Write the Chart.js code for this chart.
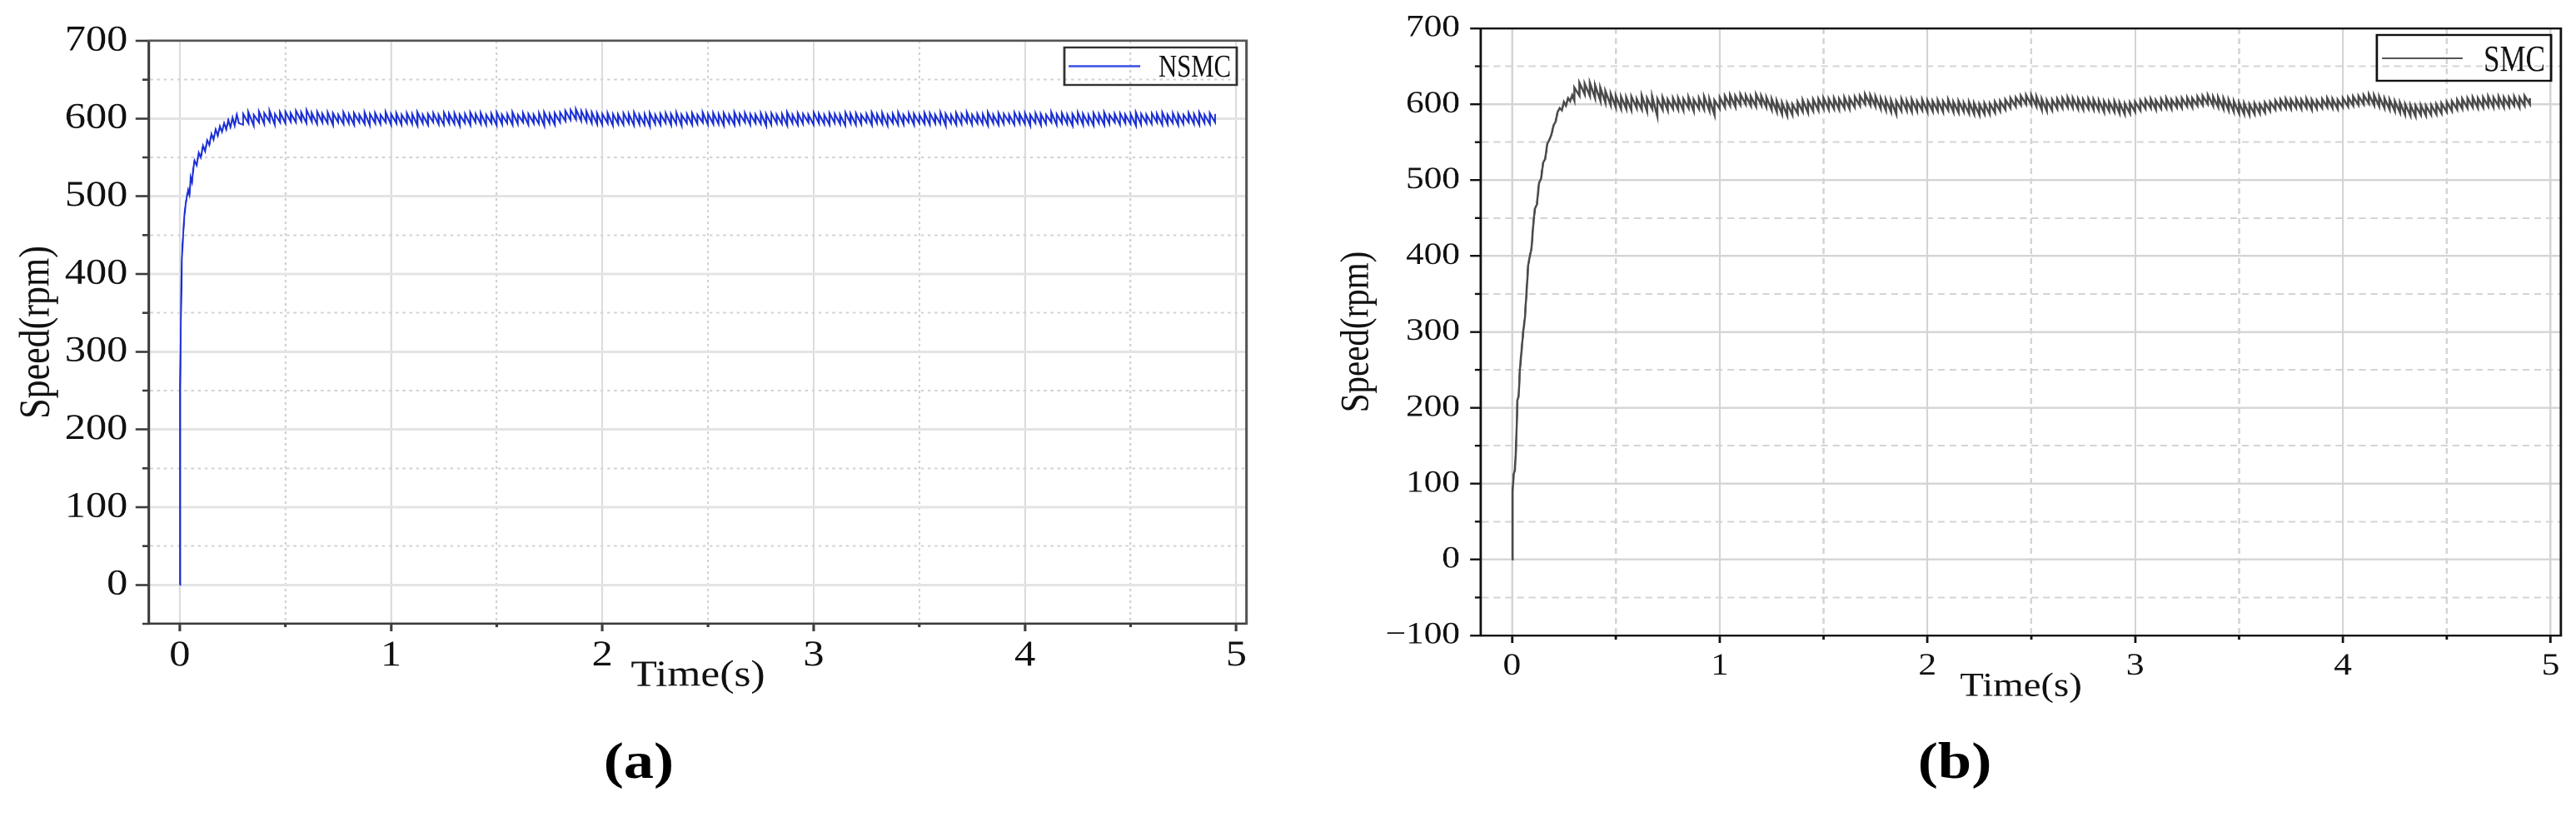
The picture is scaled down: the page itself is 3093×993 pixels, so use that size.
<!DOCTYPE html>
<html><head><meta charset="utf-8">
<script src="https://cdn.jsdelivr.net/npm/chart.js@4.4.1/dist/chart.umd.min.js"></script>
<style>
html,body{margin:0;padding:0;background:#fff;width:3093px;height:993px;overflow:hidden;}
.wrap{position:absolute;top:0;height:993px;transform-origin:0 0;transform:scaleX(1.17);}
#wa{left:0;width:1321px;}
#wb{left:1546px;width:1322px;}
canvas{display:block;}
.tag{position:absolute;top:882px;height:62px;line-height:62px;width:200px;text-align:center;font-weight:bold;font-size:62px;font-family:'Liberation Serif',serif;color:#000;transform:scaleX(1.17);}
</style></head><body>
<div class="wrap" id="wa"><canvas id="ca" width="1321" height="993" style="width:1321px;height:993px"></canvas></div>
<div class="wrap" id="wb"><canvas id="cb" width="1322" height="993" style="width:1322px;height:993px"></canvas></div>
<div class="tag" style="left:667px">(a)</div>
<div class="tag" style="left:2247px">(b)</div>
<script>
// ---- data ----
const tRiseNSMC = [0,0.002,0.006,0.01,0.016,0.022,0.028,0.034,0.04,0.046,0.052,0.058,0.064,0.07,0.08,0.09,0.1,0.11,0.12,0.13,0.14,0.15,0.16,0.17,0.18,0.19,0.2,0.21,0.22,0.23,0.24,0.25,0.26,0.27,0.28];
const vRiseNSMC = [0,255,350,420,450,475,490,500,508,502,524,518,535,546,540,556,550,565,558,572,566,580,573,586,578,590,583,594,586,598,589,601,591,605,594];
const tRiseSMC = [0,0.003,0.008,0.014,0.02,0.026,0.032,0.038,0.046,0.054,0.062,0.07,0.078,0.086,0.094,0.102,0.11,0.12,0.13,0.14,0.15,0.16,0.17,0.18,0.19,0.2,0.21,0.22,0.23,0.24,0.25,0.26,0.27,0.28,0.29];
const vRiseSMC = [0,90,112,118,150,210,215,250,275,300,318,352,388,400,410,440,462,468,496,502,523,528,548,553,560,572,577,590,595,592,603,598,608,604,612];
// steady-state chatter: at each time the lower and upper end of the chatter bar
const tSteady = [
0.3,0.325,0.35,0.375,0.4,0.425,0.45,0.475,0.5,0.525,
0.55,0.575,0.6,0.625,0.65,0.675,0.7,0.725,0.75,0.775,
0.8,0.825,0.85,0.875,0.9,0.925,0.95,0.975,1,1.025,
1.05,1.075,1.1,1.125,1.15,1.175,1.2,1.225,1.25,1.275,
1.3,1.325,1.35,1.375,1.4,1.425,1.45,1.475,1.5,1.525,
1.55,1.575,1.6,1.625,1.65,1.675,1.7,1.725,1.75,1.775,
1.8,1.825,1.85,1.875,1.9,1.925,1.95,1.975,2,2.025,
2.05,2.075,2.1,2.125,2.15,2.175,2.2,2.225,2.25,2.275,
2.3,2.325,2.35,2.375,2.4,2.425,2.45,2.475,2.5,2.525,
2.55,2.575,2.6,2.625,2.65,2.675,2.7,2.725,2.75,2.775,
2.8,2.825,2.85,2.875,2.9,2.925,2.95,2.975,3,3.025,
3.05,3.075,3.1,3.125,3.15,3.175,3.2,3.225,3.25,3.275,
3.3,3.325,3.35,3.375,3.4,3.425,3.45,3.475,3.5,3.525,
3.55,3.575,3.6,3.625,3.65,3.675,3.7,3.725,3.75,3.775,
3.8,3.825,3.85,3.875,3.9,3.925,3.95,3.975,4,4.025,
4.05,4.075,4.1,4.125,4.15,4.175,4.2,4.225,4.25,4.275,
4.3,4.325,4.35,4.375,4.4,4.425,4.45,4.475,4.5,4.525,
4.55,4.575,4.6,4.625,4.65,4.675,4.7,4.725,4.75,4.775,
4.8,4.825,4.85,4.875,4.9];
const loNSMC = [
592,594,591,595,593,596,592,595,594,596,
595,597,594,596,593,595,594,592,595,593,
594,592,595,593,591,594,593,595,592,594,
592,594,593,591,594,592,595,593,592,594,
593,591,594,592,595,593,592,594,591,593,
594,592,593,595,592,594,593,591,594,592,
595,597,598,599,597,596,594,593,592,594,
591,593,592,594,591,593,592,590,593,592,
594,592,593,591,594,592,593,595,592,593,
593,591,594,592,593,595,592,594,593,591,
592,594,593,591,594,592,593,595,592,594,
593,592,594,593,591,594,592,593,595,592,
594,593,591,594,592,593,595,592,594,593,
592,594,593,591,594,592,593,595,592,594,
593,591,594,592,593,595,592,594,593,591,
594,592,593,595,592,594,593,591,594,592,
593,591,594,592,593,595,592,594,593,591,
592,594,593,595,592,593,594,592,593,595,
593,592,594,593,595];
const hiNSMC = [
606,608,605,609,607,610,606,608,609,607,
610,608,611,607,609,606,608,607,605,608,
606,607,605,608,606,607,605,608,606,607,
605,607,606,608,605,606,607,605,608,606,
607,605,606,608,606,607,605,606,608,605,
606,608,605,607,606,605,607,608,606,607,
608,610,611,612,610,609,608,607,606,607,
606,605,607,606,608,605,606,607,605,606,
607,606,608,605,606,607,605,608,606,607,
606,607,605,608,606,607,606,605,607,606,
607,605,606,608,605,607,606,605,608,606,
605,607,606,605,608,606,607,605,606,608,
606,607,605,606,608,605,607,606,605,607,
607,605,608,606,605,607,606,608,605,606,
606,608,605,607,606,605,608,606,607,605,
607,606,605,608,606,607,605,606,608,606,
605,607,606,608,605,606,607,605,606,608,
606,605,607,606,608,605,607,606,605,607,
606,608,605,607,606];
const loSMC = [
605,611,613,611,608,605,602,599,596,594,
594,592,595,593,591,594,584,593,592,594,
593,592,595,591,594,593,592,586,594,596,
598,597,599,600,598,597,599,596,593,590,
587,585,586,588,590,589,591,592,594,593,
594,593,595,594,596,598,600,599,597,594,
592,590,587,591,592,590,591,592,590,591,
591,590,592,590,589,590,588,587,586,587,
587,589,591,593,595,597,599,600,599,597,
593,591,592,594,595,596,595,594,593,594,
593,592,590,591,590,588,587,588,590,592,
594,595,593,594,595,594,596,595,597,596,
598,599,600,598,596,594,592,590,588,587,
586,587,588,589,591,593,594,595,594,595,
594,595,593,594,595,596,595,594,596,597,
598,599,600,601,599,597,595,593,591,589,
586,585,584,586,585,586,587,588,590,591,
593,594,595,596,595,596,597,596,597,596,
597,598,596,598,600];
const hiSMC = [
622,628,627,628,625,622,617,614,611,610,
609,610,607,611,608,610,607,609,606,608,
608,607,609,606,608,610,607,605,609,611,
612,611,613,612,610,613,611,609,607,604,
602,601,600,603,605,604,606,607,608,607,
608,607,609,608,610,611,613,612,610,608,
606,605,604,607,605,606,604,606,605,604,
605,604,606,603,604,602,603,601,600,601,
601,603,604,606,608,609,611,612,612,610,
607,605,606,607,608,609,608,607,606,607,
606,605,604,603,604,602,601,602,603,605,
606,607,605,607,608,606,607,608,609,608,
610,611,612,610,609,608,606,604,602,601,
600,601,600,602,603,605,606,607,606,607,
606,607,606,605,607,608,607,606,608,609,
610,611,612,613,612,610,608,606,604,602,
600,599,598,599,598,599,600,601,603,604,
606,607,608,609,608,609,610,609,610,609,
609,610,609,611,608];
const seriesNames = ['NSMC','SMC'];
const xTitle = 'Time(s)';
const yTitle = 'Speed(rpm)';

function riseSteady(tr, vr, ts, lo, hi){
  const out = tr.map((x,i)=>({x:x, y:vr[i]}));
  ts.forEach((x,i)=>{ out.push({x:x, y:lo[i]}); out.push({x:x, y:hi[i]}); });
  return out;
}
const isMajX = v => Math.abs(v - Math.round(v)) < 1e-6;
const isMajY = v => Math.abs(v/100 - Math.round(v/100)) < 1e-6;

const minorTicks = {
  id:'minorTicks',
  afterDraw(chart, args, o){
    const {ctx, chartArea:a} = chart; const xs = chart.scales.x, ys = chart.scales.y;
    ctx.save(); ctx.strokeStyle = o.color; ctx.lineWidth = o.width; ctx.beginPath();
    xs.ticks.forEach(t=>{ if(!isMajX(t.value)){ const p = xs.getPixelForValue(t.value); ctx.moveTo(p, a.bottom); ctx.lineTo(p, a.bottom + o.xLen);} });
    ys.ticks.forEach(t=>{ if(!isMajY(t.value)){ const p = ys.getPixelForValue(t.value); ctx.moveTo(a.left - o.yLen, p); ctx.lineTo(a.left, p);} });
    ctx.stroke(); ctx.restore();
  }
};
const legendBox = {
  id:'legendBox',
  afterDraw(chart, args, o){
    const {ctx, chartArea:a} = chart; const ds = chart.data.datasets[0];
    const bx = a.right - o.rightInset - o.w, by = a.top + o.topInset;
    ctx.save();
    ctx.strokeStyle = o.boxColor; ctx.lineWidth = o.boxWidth; ctx.strokeRect(bx, by, o.w, o.h);
    ctx.strokeStyle = o.lineColor || ds.borderColor; ctx.lineWidth = o.lineW; ctx.beginPath();
    ctx.moveTo(bx + o.l0, a.top + o.ly); ctx.lineTo(bx + o.l1, a.top + o.ly); ctx.stroke();
    ctx.fillStyle = '#111'; ctx.font = o.font + 'px "Liberation Serif"'; ctx.textBaseline = 'alphabetic'; ctx.textAlign = 'left';
    ctx.translate(bx + o.tx, a.top + o.ty); ctx.scale(o.sx, 1);
    ctx.fillText(ds.label, 0, 0);
    ctx.restore();
  }
};

function build(id, P){
  const fam = 'Liberation Serif';
  const neg = v => v < 0 ? '\u2212' + Math.abs(v) : String(v);
  return new Chart(document.getElementById(id), {
    type:'line',
    data:{datasets:[{label:P.label, data:P.data, borderColor:P.color, borderWidth:P.lineW, pointRadius:0, tension:0, fill:false}]},
    options:{
      responsive:false, animation:false, devicePixelRatio:2,
      layout:{padding:{left:P.padL, right:P.padR, top:P.padT, bottom:P.padB}},
      plugins:{legend:{display:false}, tooltip:{enabled:false},
        minorTicks:{color:P.axisColor, width:P.axisW, xLen:P.xMinLen, yLen:P.yMinLen},
        legendBox:P.legend},
      scales:{
        x:{type:'linear', position:'bottom', min:P.xMin, max:P.xMax,
          afterFit:s=>{s.height = 100;},
          ticks:{stepSize:0.5, includeBounds:false, autoSkip:false, maxRotation:0, padding:P.xTickPad, color:'#111',
            font:{family:fam, size:P.tickSize, lineHeight:1.2}, callback:v => isMajX(v) ? String(Math.round(v)) : ''},
          grid:{color:c => (c.tick && isMajX(c.tick.value)) ? P.gridMaj : P.gridMin, lineWidth:P.gridW, tickLength:9, tickWidth:P.axisW,
            tickColor:c => (c.tick && isMajX(c.tick.value)) ? P.axisColor : 'rgba(0,0,0,0)'},
          border:{display:true, color:P.axisColor, width:P.axisW, dash:c => (c.tick && !isMajX(c.tick.value)) ? P.dash : []},
          title:{display:true, text:xTitle, color:'#111', font:{family:fam, size:P.xTitleSize, lineHeight:1}, padding:{top:0, bottom:P.xTitlePad}}
        },
        y:{type:'linear', position:'left', min:P.yMin, max:700,
          afterFit:s=>{s.width = P.yW;},
          ticks:{stepSize:50, autoSkip:false, padding:P.yTickPad, color:'#111',
            font:{family:fam, size:P.tickSize, lineHeight:1.2}, callback:v => isMajY(v) ? neg(Math.round(v)) : ''},
          grid:{color:c => (c.tick && isMajY(c.tick.value)) ? P.gridMajY : P.gridMin, lineWidth:c => (c.tick && isMajY(c.tick.value)) ? P.gridWY : P.gridW, tickLength:P.yTickLen, tickWidth:P.axisW,
            tickColor:c => (c.tick && isMajY(c.tick.value)) ? P.axisColor : 'rgba(0,0,0,0)'},
          border:{display:true, color:P.axisColor, width:P.axisW, dash:c => (c.tick && !isMajY(c.tick.value)) ? P.dash : []},
          title:{display:true, text:yTitle, color:'#111', font:{family:fam, size:P.yTitleSize, lineHeight:1}, padding:{top:0, bottom:0}}
        },
        x2:{type:'linear', position:'top', min:P.xMin, max:P.xMax, afterFit:s=>{s.height = 0;},
          ticks:{display:false}, grid:{display:false}, border:{display:true, color:P.frameColor, width:P.axisW}},
        y2:{type:'linear', position:'right', min:P.yMin, max:700, afterFit:s=>{s.width = 0;},
          ticks:{display:false}, grid:{display:false}, border:{display:true, color:P.frameColor, width:P.axisW}}
      }
    },
    plugins:[minorTicks, legendBox]
  });
}

build('ca', {
  label:seriesNames[0], data:riseSteady(tRiseNSMC, vRiseNSMC, tSteady, loNSMC, hiNSMC), color:'#1b2fd4', lineW:1.8,
  padL:16.5, padR:41.5, padT:49, padB:144, yW:136.5,
  xMin:-0.145, xMax:5.05, yMin:-50,
  tickSize:43, xTickPad:4, yTickPad:8, yTickLen:14, xMinLen:4, yMinLen:7,
  xTitleSize:44, xTitlePad:15, yTitleSize:44,
  axisColor:'#3c3c3c', frameColor:'#555', axisW:2.6,
  gridMaj:'#dcdcdc', gridMajY:'#e4e4e4', gridMin:'#d2d2d2', gridW:2, gridWY:3, dash:[3,4],
  legend:{rightInset:10.3, topInset:8, w:176.9, h:45, l0:4.3, l1:77.8, ly:30.5, tx:96.6, ty:43, font:38, sx:0.69, lineW:2.4, lineColor:'#3a4ee0', boxColor:'#333', boxWidth:2.4}
});
build('cb', {
  label:seriesNames[1], data:riseSteady(tRiseSMC, vRiseSMC, tSteady, loSMC, hiSMC), color:'#4a4a4a', lineW:2.2,
  padL:51.3, padR:15.2, padT:34, padB:130, yW:147,
  xMin:-0.15, xMax:5.05, yMin:-100,
  tickSize:37, xTickPad:6, yTickPad:10.4, yTickLen:11, xMinLen:5, yMinLen:6,
  xTitleSize:40, xTitlePad:18, yTitleSize:41,
  axisColor:'#111', frameColor:'#111', axisW:2.4,
  gridMaj:'#d4d4d4', gridMajY:'#d4d4d4', gridMin:'#d4d4d4', gridW:2, gridWY:2.4, dash:[7,5],
  legend:{rightInset:10.2, topInset:8, w:178.7, h:55, l0:5.2, l1:88, ly:36, tx:109.5, ty:51, font:44, sx:0.68, lineW:2, lineColor:'#555', boxColor:'#111', boxWidth:2.4}
});
</script>
</body></html>
